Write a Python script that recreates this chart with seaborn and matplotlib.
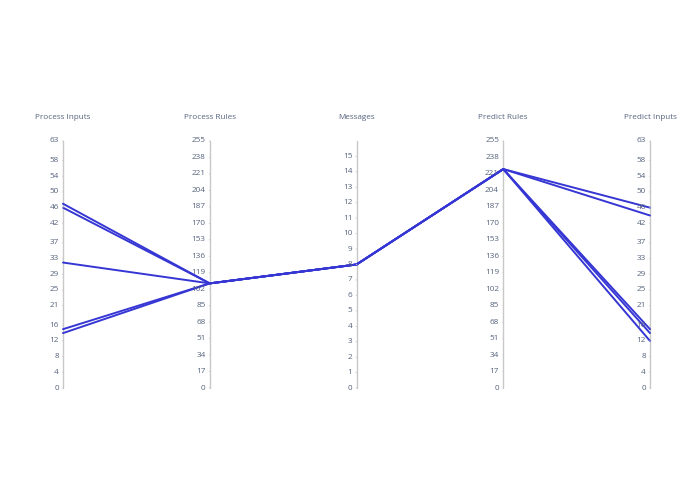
import numpy as np
import pandas as pd
import matplotlib
matplotlib.use("Agg")
import matplotlib.pyplot as plt
import seaborn as sns

# ---- data ----
dimensions = ["Process Inputs", "Process Rules", "Messages", "Predict Rules", "Predict Inputs"]
ranges = [(0, 63), (0, 255), (0, 16), (0, 255), (0, 63)]
tick_values = [
    [0, 4, 8, 12, 16, 21, 25, 29, 33, 37, 42, 46, 50, 54, 58, 63],
    list(range(0, 256, 17)),
    list(range(0, 16)),
    list(range(0, 256, 17)),
    [0, 4, 8, 12, 16, 21, 25, 29, 33, 37, 42, 46, 50, 54, 58, 63],
]
process_inputs = [47, 46, 32, 15, 14]
process_rules = [108, 108, 108, 108, 108]
messages = [8, 8, 8, 8, 8]
predict_rules = [226, 226, 226, 226, 226]
predict_inputs = [46, 44, 15, 14, 12]

series = [process_inputs, process_rules, messages, predict_rules, predict_inputs]

rows = []
for i in range(len(process_inputs)):
    for d, vals in enumerate(series):
        lo, hi = ranges[d]
        rows.append({"line": i, "axis": d, "value": (vals[i] - lo) / (hi - lo)})
df = pd.DataFrame(rows)

# ---- figure ----
sns.set_style("white")
plt.rcParams["font.family"] = ["Open Sans", "DejaVu Sans"]
W, H = 695, 494
fig = plt.figure(figsize=(W / 100, H / 100), dpi=100)
x0, x1 = 63, 650
ytop, ybot = 141, 388
ax = fig.add_axes([x0 / W, (H - ybot) / H, (x1 - x0) / W, (ybot - ytop) / H])
ax.set_xlim(0, 4)
ax.set_ylim(0, 1)
ax.axis("off")

sns.lineplot(data=df, x="axis", y="value", units="line", estimator=None,
             color="#3636d4", linewidth=1.4, ax=ax, legend=False, clip_on=False)

txt_color = "#56637d"
fs = 5.9
for d, name in enumerate(dimensions):
    ax.plot([d, d], [0, 1], color="#c8c8c8", linewidth=1.0, zorder=0, clip_on=False)
    lo, hi = ranges[d]
    for t in tick_values[d]:
        yv = (t - lo) / (hi - lo)
        ax.annotate("", xy=(d, yv), xytext=(-2.2, 0), textcoords="offset points",
                    xycoords="data", arrowprops=dict(arrowstyle="-", color="#c8c8c8", lw=0.8))
        ax.annotate(str(t), xy=(d, yv), xytext=(-3.0, 0), textcoords="offset points",
                    ha="right", va="center", fontsize=fs, color=txt_color)
    ax.annotate(name, xy=(d, 1), xytext=(0, 17.2), textcoords="offset points",
                ha="center", va="center", fontsize=fs, color=txt_color)

fig.savefig("out.png", dpi=100)
